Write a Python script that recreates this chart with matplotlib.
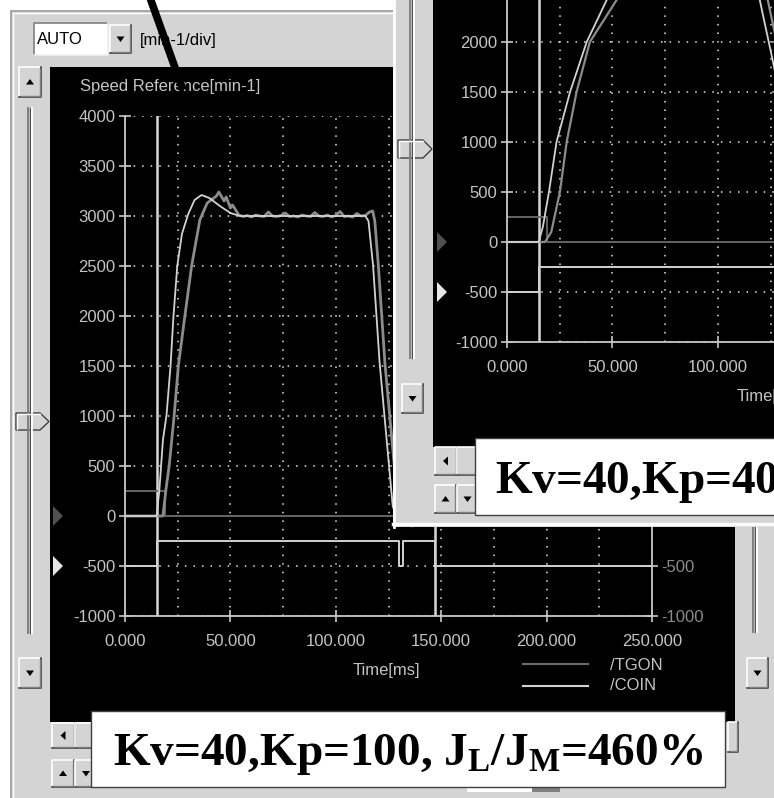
import matplotlib
matplotlib.use("Agg")
import matplotlib.pyplot as plt
from matplotlib.patches import Rectangle, Polygon
from matplotlib.ticker import MultipleLocator, FormatStrFormatter

plt.rcParams['font.family'] = ['Liberation Sans', 'DejaVu Sans']
plt.rcParams['axes.unicode_minus'] = False
plt.rcParams['mathtext.fontset'] = 'custom'
plt.rcParams['mathtext.rm'] = 'Liberation Serif:bold'
plt.rcParams['mathtext.bf'] = 'Liberation Serif:bold'
plt.rcParams['mathtext.it'] = 'Liberation Serif:bold'

# ---- main trace (Kv=40, Kp=100) ----
main_ref_t = [0, 15, 16.3, 18.0, 19.7, 21.6, 23.0, 24.8, 27.0, 30.0, 33.0, 36.3, 40, 45, 50, 54.5,
              114.0, 115.5, 117.7, 120.8, 124.0, 127.0, 129.5, 133.0, 138.0, 143.0, 250]
main_ref_v = [0, 0, 260, 760, 1010, 1500, 2000, 2500, 2820, 3020, 3160, 3210, 3180, 3100, 3030, 3000,
              3000, 2950, 2500, 1530, 790, 100, -60, -90, -40, 0, 0]

main_fb_t = [0, 18, 19.4, 21.0, 23.3, 25.3, 28.4, 31.6, 35.5, 39.0, 43.4, 44.5, 47.0, 48.0, 50.0, 51.0, 54.0,
             56, 58, 60, 62, 64, 66, 68, 70, 72, 74, 76, 78, 80, 82, 84, 86, 88, 90, 92, 94,
             96, 98, 100, 102, 104, 106, 108, 110, 112, 114, 116,
             117.5, 118.5, 120.2, 123.3, 126.5, 129.5, 132, 136, 141, 146, 250]
main_fb_v = [0, 0, 260, 510, 1000, 1500, 2000, 2500, 2960, 3130, 3200, 3240, 3150, 3190, 3080, 3110, 3010,
             2995, 3005, 2990, 3010, 3000, 2995, 3040, 3000, 2995, 3005, 3030, 2995, 3000, 2990,
             3010, 3000, 2995, 3035, 3000, 2995, 3010, 2990, 3005, 3045, 2995, 3000, 2990, 3025,
             3000, 3005, 3040,
             3050, 2950, 2500, 1530, 790, 100, -80, -100, -40, 0, 0]

main_tgon_t = [0, 19, 19, 250]
main_tgon_v = [250, 250, 0, 0]
main_coin_t = [0, 15, 15, 130, 130, 132, 132, 147, 147, 250]
main_coin_v = [-500, -500, -250, -250, -500, -500, -250, -250, -500, -500]
main_cursors = [15, 147]

# ---- inset trace (Kv=40, Kp=40) ----
inset_ref_t = [0, 15, 17.0, 19.9, 23.5, 29.9, 37.8, 47.3, 55, 65, 75, 115, 119.9, 126, 132, 140, 146, 250]
inset_ref_v = [0, 0, 150, 500, 1000, 1500, 2000, 2420, 2750, 2950, 3000, 3000, 2420, 1820, 1200, 400, 0, 0]
inset_fb_t = [0, 18, 21, 25.1, 28.3, 33, 39.3, 52, 60, 70, 80, 118, 123.7, 130, 138, 146, 150, 250]
inset_fb_v = [0, 0, 100, 500, 1000, 1500, 2000, 2420, 2750, 2950, 3000, 3000, 2420, 1800, 900, 200, 0, 0]
inset_tgon_t = [0, 19, 19, 250]
inset_tgon_v = [250, 250, 0, 0]
inset_coin_t = [0, 15, 15, 250]
inset_coin_v = [-500, -500, -250, -250]
inset_cursors = [15]

W, H = 774, 798
GRAY = '#d4d4d4'
LIGHT = '#d2d2d2'
DARK = '#8c8c8c'
TXT = '#c4c4c4'

fig = plt.figure(figsize=(W / 100, H / 100), dpi=100)
fig.patch.set_facecolor('white')


def px_axes(z):
    ax = fig.add_axes([0, 0, 1, 1], zorder=z)
    ax.set_xlim(0, W)
    ax.set_ylim(H, 0)
    ax.axis('off')
    return ax


def rect(ax, x0, y0, x1, y1, fc, ec='none', lw=1):
    ax.add_patch(Rectangle((x0, y0), x1 - x0, y1 - y0, fc=fc, ec=ec, lw=lw))


def button(ax, x0, y0, x1, y1, glyph=None):
    rect(ax, x0, y0, x1, y1, GRAY)
    ax.plot([x0, x0, x1], [y1, y0, y0], color='white', lw=1.2)
    ax.plot([x0, x1, x1], [y1, y1, y0], color='#404040', lw=1.2)
    ax.plot([x0 + 1.5, x1 - 1.5, x1 - 1.5], [y1 - 1.5, y1 - 1.5, y0 + 1.5], color='#808080', lw=1)
    cx, cy = (x0 + x1) / 2, (y0 + y1) / 2
    tri = {'up': [(cx - 4, cy + 2.5), (cx + 4, cy + 2.5), (cx, cy - 3)],
           'down': [(cx - 4, cy - 2.5), (cx + 4, cy - 2.5), (cx, cy + 3)],
           'left': [(cx + 2, cy - 4.5), (cx + 2, cy + 4.5), (cx - 3, cy)]}
    if glyph:
        ax.add_patch(Polygon(tri[glyph], closed=True, fc='black', ec='none'))


def track(ax, x, y0, y1):
    ax.plot([x - 2, x - 2], [y0, y1], color='#808080', lw=1.4)
    ax.plot([x, x], [y0, y1], color='#505050', lw=1)
    ax.plot([x + 2, x + 2], [y0, y1], color='white', lw=1.4)


def thumb(ax, x0, y0, x1, y1):
    tip = x1 + 9
    ym = (y0 + y1) / 2
    ax.add_patch(Polygon([(x0, y0), (x1, y0), (tip, ym), (x1, y1), (x0, y1)], closed=True,
                         fc=GRAY, ec='#404040', lw=1))
    ax.plot([x0 + 1, x0 + 1, x1], [y1 - 1, y0 + 1, y0 + 1], color='white', lw=1)


def marker(ax, x, y, color):
    ax.add_patch(Polygon([(x, y - 10), (x, y + 10), (x + 10, y)], closed=True, fc=color, ec='none'))


def style_plot(ax):
    ax.set_facecolor('none')
    ax.set_xlim(0, 250)
    ax.set_ylim(-1000, 4000)
    ax.xaxis.set_major_locator(MultipleLocator(50))
    ax.xaxis.set_minor_locator(MultipleLocator(25))
    ax.yaxis.set_major_locator(MultipleLocator(500))
    ax.xaxis.set_major_formatter(FormatStrFormatter('%.3f'))
    ax.grid(True, which='both', color='#e6e6e6', linestyle=(0, (1, 4.6)), linewidth=1.1)
    ax.set_axisbelow(True)
    for s in ['left', 'bottom', 'right']:
        ax.spines[s].set_color('#c8c8c8')
        ax.spines[s].set_linewidth(1.3)
    ax.spines['top'].set_visible(False)
    ax.tick_params(which='major', direction='inout', length=8, width=1.2, color='#c8c8c8',
                   labelcolor=TXT, labelsize=12)
    ax.tick_params(axis='x', which='major', pad=9)
    ax.tick_params(axis='y', which='major', pad=3, right=True, labelright=True)
    ax.tick_params(which='minor', length=0)
    for tk in ax.yaxis.get_major_ticks():
        tk.label2.set_color('#8a8a8a')


# ================= main window chrome =================
bg = px_axes(0)
rect(bg, 10, 10, W, H, GRAY)
bg.plot([10.5, 10.5, W], [H, 10.5, 10.5], color='#a0a0a0', lw=1.2)
bg.plot([12.5, 12.5, W], [H, 12.5, 12.5], color='white', lw=1)

# combobox
rect(bg, 34, 23, 108, 55, 'white')
bg.plot([34, 34, 108], [55, 23, 23], color='#808080', lw=1.2)
bg.plot([34, 108, 108], [55, 55, 23], color='#f0f0f0', lw=1.2)
bg.text(37, 40, 'AUTO', fontsize=12, color='black', va='center', ha='left')
button(bg, 110, 25, 131, 53, 'down')
bg.text(140, 41, '[min-1/div]', fontsize=12, color='black', va='center', ha='left')

# black screen
rect(bg, 50, 67, 735, 722, 'black')
bg.text(80, 86, 'Speed Reference[min-1]', fontsize=12, color=TXT, va='center', ha='left')

# left slider
button(bg, 19, 67, 41, 97, 'up')
track(bg, 30, 108, 633)
thumb(bg, 16, 413, 40, 430)
button(bg, 19, 658, 41, 688, 'down')
marker(bg, 53, 516, '#505050')
marker(bg, 53, 566, '#e6e6e6')

# bottom scroll buttons
button(bg, 52, 723, 75, 748, 'left')
button(bg, 75, 723, 96, 748)
button(bg, 52, 760, 74, 787, 'up')
button(bg, 75, 760, 97, 787, 'down')

# right slider
track(bg, 755, 527, 632)
button(bg, 747, 658, 768, 688, 'down')
button(bg, 728, 722, 738, 752)
rect(bg, 467, 786, 532, 792, 'white')
rect(bg, 532, 786, 560, 792, '#808080')

# legend & axis title
bg.plot([523, 588], [664, 664], color='#6a6a6a', lw=1.5)
bg.plot([523, 588], [686, 686], color=LIGHT, lw=1.5)
bg.text(610, 665, '/TGON', fontsize=12, color=TXT, va='center', ha='left')
bg.text(610, 686, '/COIN', fontsize=12, color=TXT, va='center', ha='left')
bg.text(386, 670, 'Time[ms]', fontsize=12, color=TXT, va='center', ha='center')

# ================= main plot =================
ax = fig.add_axes([125 / W, 1 - 616 / H, 527 / W, 500 / H], zorder=1)
style_plot(ax)
for c in main_cursors:
    ax.axvline(c, color='#d8d8d8', lw=1.8)
ax.plot(main_tgon_t, main_tgon_v, color='#646464', lw=1.4)
ax.plot(main_coin_t, main_coin_v, color=LIGHT, lw=1.4)
ax.plot(main_fb_t, main_fb_v, color=DARK, lw=2.0)
ax.plot(main_ref_t, main_ref_v, color=LIGHT, lw=1.3)

# ================= inset window chrome =================
ib = px_axes(2)
rect(ib, 393, 0, W, 527, GRAY)
ib.plot([394, 394], [0, 527], color='white', lw=2)
ib.plot([393, W], [524, 524], color='white', lw=2.5)
rect(ib, 433, 0, W, 447, 'black')
track(ib, 412, 0, 358)
thumb(ib, 398, 140, 423, 158)
button(ib, 402, 384, 423, 413, 'down')
marker(ib, 437, 242, '#505050')
marker(ib, 437, 292, '#e6e6e6')
button(ib, 435, 447, 457, 475, 'left')
button(ib, 457, 447, 478, 475)
button(ib, 435, 485, 456, 513, 'up')
button(ib, 457, 485, 478, 513, 'down')
ib.text(737, 397, 'Time[ms]', fontsize=12, color=TXT, va='center', ha='left')

# ================= inset plot =================
ai = fig.add_axes([507 / W, 1 - 342 / H, 527 / W, 500 / H], zorder=3)
style_plot(ai)
for c in inset_cursors:
    ai.axvline(c, color='#d8d8d8', lw=1.8)
ai.plot(inset_tgon_t, inset_tgon_v, color='#646464', lw=1.4)
ai.plot(inset_coin_t, inset_coin_v, color=LIGHT, lw=1.4)
ai.plot(inset_fb_t, inset_fb_v, color=DARK, lw=1.6)
ai.plot(inset_ref_t, inset_ref_v, color=LIGHT, lw=1.3)

# ================= labels on top =================
top = px_axes(4)
rect(top, 475, 438, 790, 515, 'white', ec='#404040', lw=1)
top.text(495, 493, r'Kv=40,Kp=40, $\mathrm{J}_\mathrm{L}$/$\mathrm{J}_\mathrm{M}$=460%',
         fontsize=34, family='Liberation Serif', weight='bold', color='black',
         ha='left', va='baseline')
rect(top, 91, 711, 725, 787, 'white', ec='#404040', lw=1)
top.text(113, 765, r'Kv=40,Kp=100, $\mathrm{J}_\mathrm{L}$/$\mathrm{J}_\mathrm{M}$=460%',
         fontsize=34, family='Liberation Serif', weight='bold', color='black',
         ha='left', va='baseline')
top.plot([149, 183], [-5, 90], color='black', lw=5.5, solid_capstyle='butt')

fig.savefig('out.png', dpi=100)
